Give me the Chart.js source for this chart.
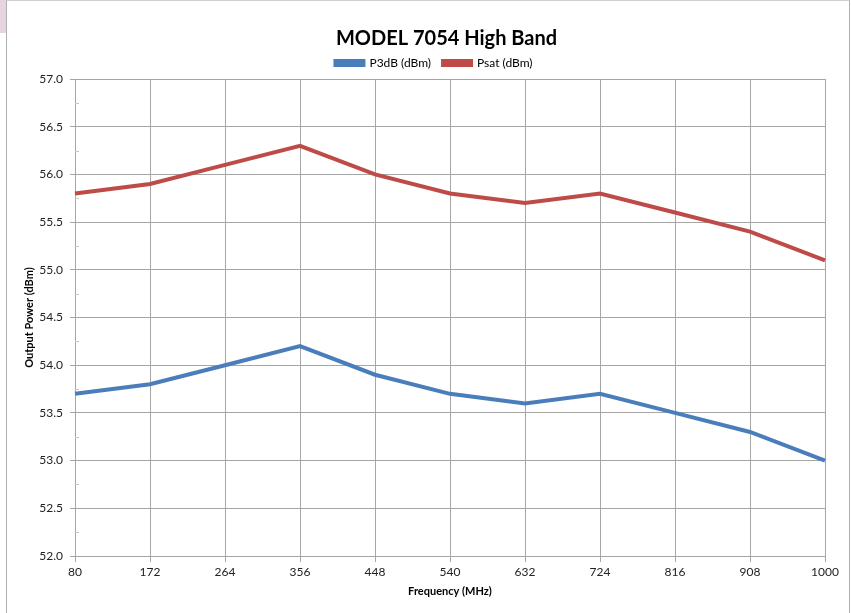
<!DOCTYPE html>
<html>
<head>
<meta charset="utf-8">
<script src="https://cdn.jsdelivr.net/npm/chart.js@4"></script>
<style>
  body { margin: 0; background: #fff; }
  #corner { position: absolute; left: 0; top: 0; width: 6px; height: 33px; background: #e8d3e0; }
  #frame { position: absolute; left: 6px; top: 0; width: 842px; height: 613px;
           border-left: 1px solid #b0b0b0; border-top: 1px solid #d0d0d0; border-right: 1px solid #b0b0b0; }
</style>
</head>
<body>
<div id="corner"></div>
<div id="frame"><canvas id="chart" width="842" height="612"></canvas></div>
<script>
document.addEventListener("DOMContentLoaded", function() {
  var frequencies = ["80", "172", "264", "356", "448", "540", "632", "724", "816", "908", "1000"];
  var p3dB = [53.7, 53.8, 54.0, 54.2, 53.9, 53.7, 53.6, 53.7, 53.5, 53.3, 53.0];
  var psat = [55.8, 55.9, 56.1, 56.3, 56.0, 55.8, 55.7, 55.8, 55.6, 55.4, 55.1];

  var font = "Lato, 'Open Sans', sans-serif";
  var gridColor = "#a6a6a6";

  var isMajor = function(v) {
    return Math.abs(v * 2 - Math.round(v * 2)) < 1e-6;
  };

  // small inner tick marks at the 0.25 steps, like the original
  var minorTicks = {
    id: "minorTicks",
    afterDraw: function(chart) {
      var y = chart.scales.y;
      var ctx = chart.ctx;
      var left = chart.chartArea.left;
      ctx.save();
      ctx.strokeStyle = "#c8c8c8";
      ctx.lineWidth = 1;
      y.ticks.forEach(function(t) {
        if (isMajor(t.value)) return;
        var py = Math.round(y.getPixelForValue(t.value)) + 0.5;
        ctx.beginPath();
        ctx.moveTo(left, py);
        ctx.lineTo(left + 4, py);
        ctx.stroke();
      });
      ctx.restore();
    }
  };

  // centre title and legend over the plot area instead of the whole canvas
  var centreHeader = {
    id: "centreHeader",
    afterLayout: function(chart) {
      var area = chart.chartArea;
      var t = chart.titleBlock;
      t.left = area.left - 7;
      t.right = area.right;
      t.top += 8;
      t.bottom += 8;
      var l = chart.legend;
      var mid = (area.left + area.right) / 2 - 16;
      l.left = mid - 300;
      l.right = mid + 300;
    }
  };

  var ctx = document.getElementById("chart").getContext("2d");
  var chart = new Chart(ctx, {
    type: "line",
    data: {
      labels: frequencies,
      datasets: [{
        label: "P3dB (dBm)",
        data: p3dB,
        borderColor: "#4a7ebb",
        backgroundColor: "#4a7ebb",
        borderWidth: 4,
        pointRadius: 0,
        tension: 0
      }, {
        label: "Psat (dBm)",
        data: psat,
        borderColor: "#be4b48",
        backgroundColor: "#be4b48",
        borderWidth: 4,
        pointRadius: 0,
        tension: 0
      }]
    },
    options: {
      responsive: false,
      animation: false,
      layout: { padding: { left: 0, right: 24, top: 18, bottom: 0 } },
      plugins: {
        title: {
          display: true,
          text: "MODEL 7054 High Band",
          color: "#000",
          font: { family: font, size: 20, weight: "bold" },
          padding: { top: 0, bottom: 2 }
        },
        legend: {
          labels: {
            color: "#000",
            font: { family: font, size: 12 },
            boxWidth: 28,
            boxHeight: 4,
            padding: 12
          }
        },
        tooltip: { enabled: false }
      },
      scales: {
        x: {
          offset: false,
          grid: { color: gridColor, tickLength: 6, tickColor: gridColor },
          border: { color: gridColor },
          ticks: { color: "#222", font: { family: font, size: 12 }, maxRotation: 0, autoSkip: false },
          title: { display: true, text: "Frequency (MHz)", color: "#000", font: { family: font, size: 11, weight: "bold" }, padding: { top: 2, bottom: 15 } },
          afterFit: function(scale) { scale.height = 57; }
        },
        y: {
          min: 52,
          max: 57,
          ticks: {
            stepSize: 0.25,
            color: "#222",
            font: { family: font, size: 12 },
            padding: 7,
            callback: function(v) { return isMajor(v) ? v.toFixed(1) : ""; }
          },
          grid: {
            color: function(c) { return isMajor(c.tick.value) ? gridColor : "transparent"; },
            tickColor: function(c) { return isMajor(c.tick.value) ? gridColor : "transparent"; },
            tickLength: 5
          },
          border: { color: gridColor },
          title: { display: true, text: "Output Power (dBm)", color: "#000", font: { family: font, size: 11, weight: "bold" }, padding: { top: 16, bottom: 0 } },
          afterFit: function(scale) { scale.width = 68; }
        }
      }
    },
    plugins: [minorTicks, centreHeader]
  });
});
</script>
</body>
</html>
